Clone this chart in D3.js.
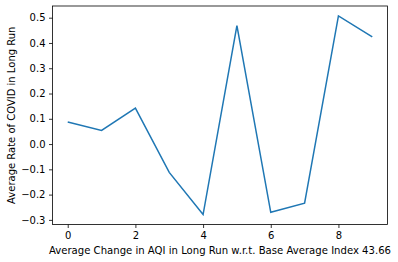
<!DOCTYPE html>
<html>
<head>
<meta charset="utf-8">
<script src="https://cdn.jsdelivr.net/npm/d3@7"></script>
<style>
  body { margin: 0; background: #fff; }
  text { font-family: "DejaVu Sans", sans-serif; fill: #000; }
  .tick text { font-size: 10px; }
  .tick line { stroke: #000; stroke-width: 0.8; }
</style>
</head>
<body>
<div id="chart"></div>
<script>
// values
var xVals = [0, 1, 2, 3, 4, 5, 6, 7, 8, 9];
var yVals = [0.087, 0.054, 0.142, -0.112, -0.279, 0.469, -0.270, -0.234, 0.507, 0.424];
var xTicks = [0, 2, 4, 6, 8];
var yTicks = [-0.3, -0.2, -0.1, 0.0, 0.1, 0.2, 0.3, 0.4, 0.5];

var width = 398, height = 262;
// note: "top" is reserved on window, so use plot* names
var plotLeft = 52.5, plotRight = 387.5, plotTop = 6, plotBottom = 224.5;

var svg = d3.select('#chart').append('svg')
    .attr('width', width)
    .attr('height', height);

// matplotlib style 5% margins
var xPad = (d3.max(xVals) - d3.min(xVals)) * 0.05;
var yPad = (d3.max(yVals) - d3.min(yVals)) * 0.05;

var x = d3.scaleLinear()
    .domain([d3.min(xVals) - xPad, d3.max(xVals) + xPad])
    .range([plotLeft, plotRight]);
var y = d3.scaleLinear()
    .domain([d3.min(yVals) - yPad, d3.max(yVals) + yPad])
    .range([plotBottom, plotTop]);

var xAxis = svg.append('g')
    .attr('transform', 'translate(0,' + plotBottom + ')')
    .call(d3.axisBottom(x).tickValues(xTicks).tickSize(3.5).tickPadding(3.5).tickFormat(d3.format('d')));
var yAxis = svg.append('g')
    .attr('transform', 'translate(' + plotLeft + ',0)')
    .call(d3.axisLeft(y).tickValues(yTicks).tickSize(3.5).tickPadding(3.5)
        .tickFormat(function(d) { return d3.format('.1f')(d).replace('-', '\u2212'); }));
xAxis.select('.domain').remove();
yAxis.select('.domain').remove();

// frame
svg.append('rect')
    .attr('x', plotLeft)
    .attr('y', plotTop)
    .attr('width', plotRight - plotLeft)
    .attr('height', plotBottom - plotTop)
    .attr('fill', 'none')
    .attr('stroke', '#000')
    .attr('stroke-width', 0.8);

var line = d3.line()
    .x(function(d, i) { return x(xVals[i]); })
    .y(function(d) { return y(d); });

svg.append('path')
    .datum(yVals)
    .attr('d', line)
    .attr('fill', 'none')
    .attr('stroke', '#1f77b4')
    .attr('stroke-width', 1.5);

svg.append('text')
    .attr('x', (plotLeft + plotRight) / 2)
    .attr('y', 254)
    .attr('text-anchor', 'middle')
    .style('font-size', '10.1px')
    .text('Average Change in AQI in Long Run w.r.t. Base Average Index 43.66');

svg.append('text')
    .attr('transform', 'translate(15,' + ((plotTop + plotBottom) / 2) + ') rotate(-90)')
    .attr('text-anchor', 'middle')
    .style('font-size', '10px')
    .text('Average Rate of COVID in Long Run');
</script>
</body>
</html>
